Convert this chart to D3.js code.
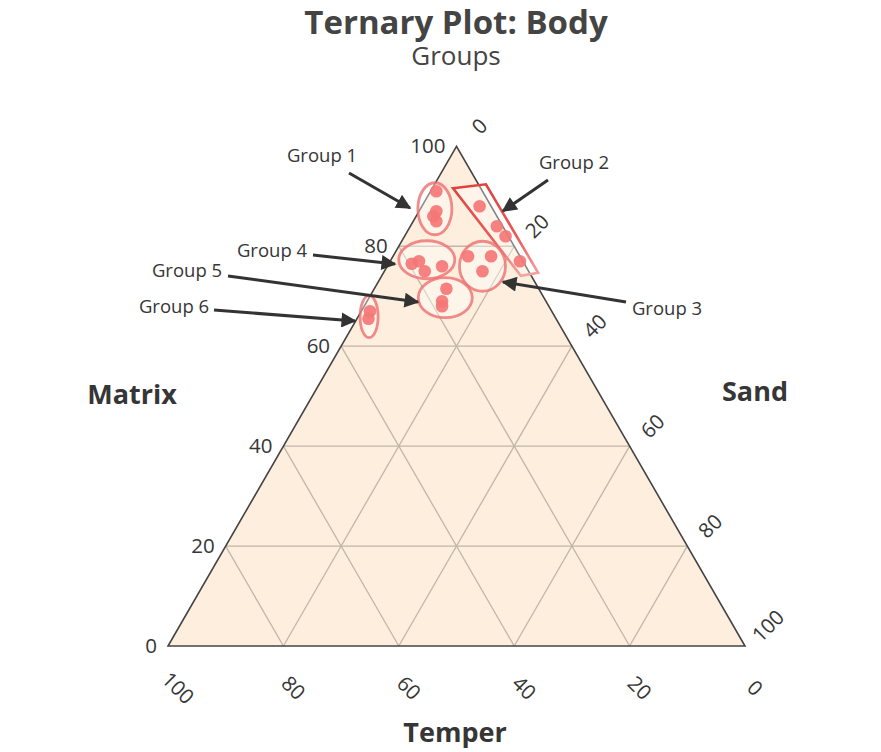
<!DOCTYPE html>
<html>
<head>
<meta charset="utf-8">
<script src="https://cdn.jsdelivr.net/npm/d3@7"></script>
<style>
  body { margin: 0; background: #fff; }
  text { font-family: "Open Sans", sans-serif; fill: #363636; }
</style>
</head>
<body>
<div id="chart" style="width:881px;height:752px"></div>
<script>
// --- data (percentages: matrix + sand + temper = 100) ---
const tickValues = [0, 20, 40, 60, 80, 100];
const axisNames = { matrix: "Matrix", sand: "Sand", temper: "Temper" };

const pointGroup  = [1, 1, 1, 1, 2, 2, 2, 2, 3, 3, 3, 4, 4, 4, 4, 5, 5, 5, 6, 6];
const pointMatrix = [91, 87, 86, 85, 88, 84, 82, 77, 78, 78, 75, 76.5, 77, 75, 76, 71.5, 69, 68, 67, 65.5];
const pointSand   = [1, 3, 3, 4, 10, 15, 17.5, 22.5, 13, 17, 17, 4, 5, 7, 9.5, 12.5, 13, 13.5, 1.5, 2];
const pointTemper = [8, 10, 11, 11, 2, 1, 0.5, 0.5, 9, 5, 8, 19.5, 18, 18, 14.5, 16, 18, 18.5, 31.5, 32.5];

// group outlines: ellipse centres
const ellipseGroup  = [1, 3, 4, 5, 6];
const ellipseMatrix = [87.5, 76, 77.3, 69.7, 65.9];
const ellipseSand   = [2.5, 16.5, 6.2, 13.2, 1.9];
const ellipseTemper = [10, 7.5, 16.5, 17.1, 32.2];

// group 2 outline: corners of a slanted box
const boxMatrix = [91.6, 92.4, 74.7, 74.1];
const boxSand   = [3.6, 8.9, 26.8, 24.1];
const boxTemper = [4.8, -1.3, -1.5, 1.8];

const groupNames = ["Group 1", "Group 2", "Group 3", "Group 4", "Group 5", "Group 6"];

// --- layout ---
const width = 881, height = 752;
const side = 577;
const left = 168, bottom = 646;
const triH = side * Math.sqrt(3) / 2;

const ellipseSize = { 1: [17, 26], 3: [23, 25], 4: [28, 19], 5: [27, 20], 6: [9, 21] };

// annotation label, line start, arrow tip (pixels)
const notes = [
  { g: 1, tx: 322, ty: 156, x1: 349, y1: 173, x2: 410, y2: 208 },
  { g: 2, tx: 574, ty: 163, x1: 548, y1: 180, x2: 503, y2: 211 },
  { g: 3, tx: 667, ty: 309, x1: 626, y1: 302, x2: 503, y2: 282 },
  { g: 4, tx: 272, ty: 251, x1: 313, y1: 255, x2: 395, y2: 264 },
  { g: 5, tx: 187, ty: 271, x1: 228, y1: 276, x2: 418, y2: 302 },
  { g: 6, tx: 174, ty: 307, x1: 214, y1: 310, x2: 355, y2: 321 }
];

const svg = d3.select("#chart")
  .append("svg")
  .attr("width", width)
  .attr("height", height);

// scales: sand runs along the bottom, matrix goes up, matrix also shifts x by half
const sandX = d3.scaleLinear().domain([0, 100]).range([0, side]);
const matrixX = d3.scaleLinear().domain([0, 100]).range([0, side / 2]);
const matrixY = d3.scaleLinear().domain([0, 100]).range([bottom, bottom - triH]);

function project(m, s, t) {
  const sum = m + s + t;
  m = m * 100 / sum; s = s * 100 / sum;
  return [left + sandX(s) + matrixX(m), matrixY(m)];
}

const apex = project(100, 0, 0), bl = project(0, 0, 100), br = project(0, 100, 0);

// triangle background
svg.append("path")
  .attr("d", d3.line()([apex, bl, br]) + "Z")
  .attr("fill", "#fdeedd");

// grid lines
const grid = svg.append("g").attr("stroke", "#c2b6a8").attr("stroke-width", 1.3);
tickValues.slice(1, -1).forEach(v => {
  // constant matrix
  grid.append("line").datum([project(v, 0, 100 - v), project(v, 100 - v, 0)])
    .attr("x1", d => d[0][0]).attr("y1", d => d[0][1])
    .attr("x2", d => d[1][0]).attr("y2", d => d[1][1]);
  // constant sand
  grid.append("line").datum([project(0, v, 100 - v), project(100 - v, v, 0)])
    .attr("x1", d => d[0][0]).attr("y1", d => d[0][1])
    .attr("x2", d => d[1][0]).attr("y2", d => d[1][1]);
  // constant temper
  grid.append("line").datum([project(0, 100 - v, v), project(100 - v, 0, v)])
    .attr("x1", d => d[0][0]).attr("y1", d => d[0][1])
    .attr("x2", d => d[1][0]).attr("y2", d => d[1][1]);
});

// triangle edges
svg.append("path")
  .attr("d", d3.line()([apex, bl, br]) + "Z")
  .attr("fill", "none")
  .attr("stroke", "#444")
  .attr("stroke-width", 1.6);

// tick labels
const tickFont = "20.5px";
svg.append("g").selectAll("text")
  .data(tickValues)
  .join("text")
  .attr("x", d => project(d, 0, 100 - d)[0] - 11)
  .attr("y", d => project(d, 0, 100 - d)[1])
  .attr("dy", "0.35em")
  .attr("text-anchor", "end")
  .style("font-size", tickFont)
  .text(d => d);

svg.append("g").selectAll("text")
  .data(tickValues)
  .join("text")
  .attr("transform", d => {
    const p = project(0, 100 - d, d);
    return `translate(${p[0] + 10},${p[1] + 42}) rotate(45)`;
  })
  .attr("dy", "0.35em")
  .attr("text-anchor", "middle")
  .style("font-size", tickFont)
  .text(d => d);

svg.append("g").selectAll("text")
  .data(tickValues)
  .join("text")
  .attr("transform", d => {
    const p = project(100 - d, d, 0);
    return `translate(${p[0] + 23},${p[1] - 20}) rotate(-45)`;
  })
  .attr("dy", "0.35em")
  .attr("text-anchor", "middle")
  .style("font-size", tickFont)
  .text(d => d);

// axis titles
svg.append("text").attr("x", 132).attr("y", 404).attr("text-anchor", "middle")
  .style("font-size", "27px").style("font-weight", "bold").text(axisNames.matrix);
svg.append("text").attr("x", 755).attr("y", 401).attr("text-anchor", "middle")
  .style("font-size", "27px").style("font-weight", "bold").text(axisNames.sand);
svg.append("text").attr("x", 455).attr("y", 742).attr("text-anchor", "middle")
  .style("font-size", "27px").style("font-weight", "bold").text(axisNames.temper);

// title
svg.append("text").attr("x", 456).attr("y", 34).attr("text-anchor", "middle")
  .style("font-size", "33px").style("font-weight", "bold").style("fill", "#444")
  .text("Ternary Plot: Body");
svg.append("text").attr("x", 456).attr("y", 65).attr("text-anchor", "middle")
  .style("font-size", "26px").style("fill", "#444")
  .text("Groups");

// group outlines
const defs = svg.append("defs");
const grad = defs.append("linearGradient")
  .attr("id", "boxStroke")
  .attr("gradientUnits", "userSpaceOnUse")
  .attr("x1", 0).attr("y1", project(92, 4, 4)[1])
  .attr("x2", 0).attr("y2", project(74, 24, 2)[1]);
grad.append("stop").attr("offset", "0%").attr("stop-color", "#e2403f");
grad.append("stop").attr("offset", "55%").attr("stop-color", "#e85a5a");
grad.append("stop").attr("offset", "100%").attr("stop-color", "#f5a5a5");

svg.append("path")
  .attr("d", d3.line()(boxMatrix.map((m, i) => project(m, boxSand[i], boxTemper[i]))) + "Z")
  .attr("fill", "rgba(255,255,255,0.35)")
  .attr("stroke", "url(#boxStroke)")
  .attr("stroke-width", 2.6);

svg.append("g").selectAll("ellipse")
  .data(ellipseGroup)
  .join("ellipse")
  .attr("cx", (g, i) => project(ellipseMatrix[i], ellipseSand[i], ellipseTemper[i])[0])
  .attr("cy", (g, i) => project(ellipseMatrix[i], ellipseSand[i], ellipseTemper[i])[1])
  .attr("rx", g => ellipseSize[g][0])
  .attr("ry", g => ellipseSize[g][1])
  .attr("fill", "rgba(255,255,255,0.4)")
  .attr("stroke", "#ee6f6f")
  .attr("stroke-opacity", 0.8)
  .attr("stroke-width", 2.8);

// points
svg.append("g").selectAll("circle")
  .data(pointGroup)
  .join("circle")
  .attr("cx", (g, i) => project(pointMatrix[i], pointSand[i], pointTemper[i])[0])
  .attr("cy", (g, i) => project(pointMatrix[i], pointSand[i], pointTemper[i])[1])
  .attr("r", 6.3)
  .attr("fill", "#f47676")
  .attr("fill-opacity", 0.92);

// annotations with arrows
defs.append("marker")
  .attr("id", "arrow")
  .attr("viewBox", "0 0 10 10")
  .attr("refX", 9).attr("refY", 5)
  .attr("markerWidth", 5.2).attr("markerHeight", 5)
  .attr("markerUnits", "strokeWidth")
  .attr("orient", "auto")
  .append("path")
  .attr("d", "M0,0 L10,5 L0,10 Z")
  .attr("fill", "#333");

const ann = svg.append("g");
ann.selectAll("line")
  .data(notes)
  .join("line")
  .attr("x1", d => d.x1).attr("y1", d => d.y1)
  .attr("x2", d => d.x2).attr("y2", d => d.y2)
  .attr("stroke", "#333")
  .attr("stroke-width", 3)
  .attr("marker-end", "url(#arrow)");

ann.selectAll("text")
  .data(notes)
  .join("text")
  .attr("x", d => d.tx).attr("y", d => d.ty)
  .attr("dy", "0.35em")
  .attr("text-anchor", "middle")
  .style("font-size", "18.5px")
  .text(d => groupNames[d.g - 1]);
</script>
</body>
</html>
